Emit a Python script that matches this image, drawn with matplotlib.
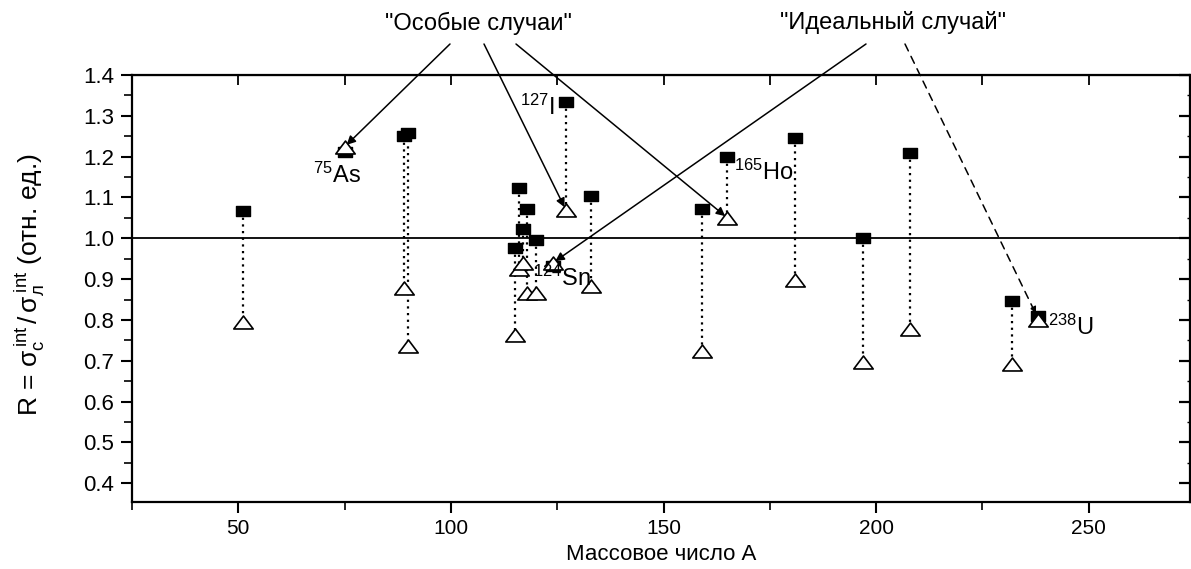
import matplotlib
matplotlib.use("Agg")
import matplotlib.pyplot as plt
from matplotlib.path import Path
from matplotlib.ticker import MultipleLocator

plt.rcParams['font.family'] = ['Liberation Sans', 'DejaVu Sans']
plt.rcParams['mathtext.fontset'] = 'custom'
plt.rcParams['mathtext.rm'] = 'Liberation Sans'
plt.rcParams['mathtext.it'] = 'Liberation Sans'
plt.rcParams['mathtext.bf'] = 'Liberation Sans:bold'

# ---- data ----
mass_numbers = [51, 75, 89, 90, 115, 116, 117, 118, 120, 124, 127, 133,
                159, 165, 181, 197, 208, 232, 238]
r_squares = [1.067, 1.212, 1.251, 1.258, 0.975, 1.124, 1.023, 1.072, 0.997,
             0.932, 1.334, 1.104, 1.072, 1.200, 1.246, 1.001, 1.209, 0.847, 0.810]
r_triangles = [0.796, 1.224, 0.879, 0.737, 0.762, 0.925, 0.940, 0.867, 0.867,
               0.940, 1.070, 0.882, 0.723, 1.050, 0.899, 0.698, 0.777, 0.691, 0.800]

isotope_labels = [r'$^{124}$Sn', r'$^{75}$As', r'$^{127}$I', r'$^{165}$Ho', r'$^{238}$U']
isotope_label_pos = [(119.3, 0.883), (67.5, 1.136), (116.3, 1.302), (166.5, 1.143), (240.5, 0.764)]

special_text = '"Особые случаи"'
special_targets = [(75, 1.224), (127, 1.070), (165, 1.050)]
ideal_text = '"Идеальный случай"'
ideal_targets = [(124, 0.940), (238, 0.805)]

W, H = 1191, 569
fig = plt.figure(figsize=(W / 100, H / 100), dpi=100)
ax = fig.add_axes([132 / W, 1 - 502 / H, (1190 - 132) / W, (502 - 75) / H])

ax.set_xlim(25, 273.8)
ax.set_ylim(0.354, 1.4)

# reference line
ax.axhline(1.0, color='black', lw=1.3, zorder=1)

# dotted connectors
for a, rs, rt in zip(mass_numbers, r_squares, r_triangles):
    ax.plot([a, a], [rs, rt], color='black', lw=1.6, ls=(0, (1, 2)), zorder=2)

rect = Path([(-1.3, -1), (1.3, -1), (1.3, 1), (-1.3, 1), (-1.3, -1)],
            [Path.MOVETO, Path.LINETO, Path.LINETO, Path.LINETO, Path.CLOSEPOLY])
tri = Path([(-1.5, -1), (1.5, -1), (0, 1), (-1.5, -1)],
           [Path.MOVETO, Path.LINETO, Path.LINETO, Path.CLOSEPOLY])

ax.plot(mass_numbers, r_squares, ls='none', marker=rect, ms=10,
        mfc='black', mec='black', zorder=3)
ax.plot(mass_numbers, r_triangles, ls='none', marker=tri, ms=14,
        mfc='white', mec='black', mew=1.2, zorder=4)

for lbl, (x, y) in zip(isotope_labels, isotope_label_pos):
    ax.text(x, y, lbl, fontsize=17, ha='left', va='baseline', zorder=5)

# annotations
def pix(px, py):
    return (px / W, 1 - py / H)

fig.text(*pix(478, 23), special_text, fontsize=17, ha='center', va='center')
fig.text(*pix(893, 23), ideal_text, fontsize=17, ha='center', va='center')

special_starts = [(450, 44), (484, 44), (516, 44)]
for (sx, sy), tgt in zip(special_starts, special_targets):
    ax.annotate('', xy=tgt, xycoords='data', xytext=pix(sx, sy),
                textcoords='figure fraction',
                arrowprops=dict(arrowstyle='-|>', color='black', lw=1.1,
                                mutation_scale=13, shrinkA=0, shrinkB=2),
                annotation_clip=False)

ax.annotate('', xy=ideal_targets[0], xycoords='data', xytext=pix(866, 44),
            textcoords='figure fraction',
            arrowprops=dict(arrowstyle='-|>', color='black', lw=1.1,
                            mutation_scale=13, shrinkA=0, shrinkB=2),
            annotation_clip=False)
ax.annotate('', xy=ideal_targets[1], xycoords='data', xytext=pix(905, 44),
            textcoords='figure fraction',
            arrowprops=dict(arrowstyle='-|>', color='black', lw=1.1, ls=(0, (5, 4)),
                            mutation_scale=10, shrinkA=0, shrinkB=3),
            annotation_clip=False)

# axes styling
for sp in ax.spines.values():
    sp.set_linewidth(1.6)
ax.xaxis.set_major_locator(MultipleLocator(50))
ax.xaxis.set_minor_locator(MultipleLocator(25))
ax.yaxis.set_minor_locator(MultipleLocator(0.05))
ax.set_yticks([0.4, 0.5, 0.6, 0.7, 0.8, 0.9, 1.0, 1.1, 1.2, 1.3, 1.4])
ax.set_yticklabels(['0.4', '0.5', '0.6', '0.7', '0.8', '0.9', '1.0', '1.1', '1.2', '1.3', '1.4'])

ax.tick_params(axis='both', which='major', direction='out', length=8, width=1.5,
               top=False, right=False)
ax.tick_params(axis='x', which='major', labelsize=15, pad=4)
ax.tick_params(axis='y', which='major', labelsize=16, pad=5)
ax.tick_params(axis='both', which='minor', direction='out', length=6, width=1.2,
               top=False, right=False)

# top ticks (inward, every 25)
axt = ax.secondary_xaxis('top')
axt.xaxis.set_major_locator(MultipleLocator(25))
axt.tick_params(direction='in', length=7, width=1.3, labeltop=False)
axt.set_xticklabels([])
# right ticks (inward)
axr = ax.secondary_yaxis('right')
axr.yaxis.set_major_locator(MultipleLocator(0.1))
axr.yaxis.set_minor_locator(MultipleLocator(0.05))
axr.tick_params(which='major', direction='in', length=8, width=1.6, labelright=False)
axr.tick_params(which='minor', direction='in', length=2, width=1.0)
axr.set_yticklabels([])

ax.set_xlabel('Массовое число А', fontsize=16, va='center')
ax.xaxis.set_label_coords(0.5, (502 - 555) / 427)
ax.set_ylabel(r'R = $\sigma^{\,int}_{c}\,/\,\sigma^{\,int}_{л}$ (отн. ед.)', fontsize=19,
              va='center', ha='center')
ax.yaxis.set_label_coords((30 - 132) / 1058, (502 - 285) / 427)

fig.savefig('out.png', dpi=100)
